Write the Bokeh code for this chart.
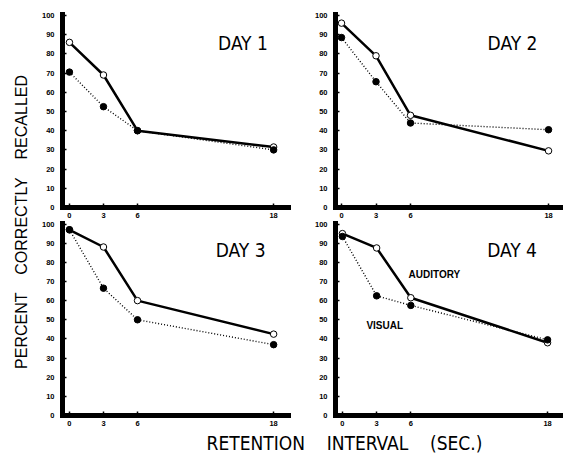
import math
from bokeh.plotting import figure
from bokeh.layouts import row, column
from bokeh.models import FixedTicker, Range1d, Label
from bokeh.embed import file_html
from bokeh.resources import INLINE

# ---- data ----
intervals = [0, 3, 6, 18]
interval_labels = ["0", "3", "6", "18"]
day_names = ["DAY 1", "DAY 2", "DAY 3", "DAY 4"]
auditory_day1 = [86, 69, 40, 31.5]
visual_day1 = [70.5, 52.5, 40, 30]
auditory_day2 = [96, 79, 48, 29.5]
visual_day2 = [88.5, 65.5, 44, 40.5]
auditory_day3 = [97, 88, 60, 42.5]
visual_day3 = [97, 66.5, 50, 37]
auditory_day4 = [95, 87.5, 61.5, 38]
visual_day4 = [93.5, 62.5, 57.5, 39.5]
y_ticks = [0, 10, 20, 30, 40, 50, 60, 70, 80, 90, 100]

NARROW = "Liberation Sans Narrow, DejaVu Sans Condensed, Liberation Sans, sans-serif"
TICKF = "Liberation Sans, Arial, sans-serif"


def panel(aud, vis, name, xr, yend, w, h, bl, br, bt, bb, day_xy, extra=None):
    p = figure(width=w, height=h, x_range=Range1d(*xr), y_range=Range1d(0, yend),
               min_border_left=bl, min_border_right=br, min_border_top=bt,
               min_border_bottom=bb, output_backend="svg", toolbar_location=None)
    p.outline_line_color = None
    p.grid.visible = False
    p.background_fill_color = "white"
    p.border_fill_color = "white"
    p.xaxis.ticker = FixedTicker(ticks=intervals)
    p.xaxis.major_label_overrides = {t: l for t, l in zip(intervals, interval_labels)}
    p.yaxis.ticker = FixedTicker(ticks=y_ticks)
    for ax in (p.xaxis[0], p.yaxis[0]):
        ax.axis_line_width = 5
        ax.axis_line_color = "black"
        ax.axis_line_cap = "square"
        ax.major_tick_in = 4
        ax.major_tick_out = 0
        ax.major_tick_line_width = 1.5
        ax.major_tick_line_color = "black"
        ax.minor_tick_line_color = None
        ax.major_label_text_font = TICKF
        ax.major_label_text_font_size = "7.5px"
        ax.major_label_text_font_style = "bold"
        ax.major_label_text_color = "black"
    p.yaxis.major_label_standoff = 8
    p.xaxis.major_label_standoff = 5

    p.line(intervals, aud, line_color="black", line_width=2.5)
    p.line(intervals, vis, line_color="black", line_width=1.4, line_dash="1 2")
    p.scatter(intervals, aud, marker="circle", size=6.5, fill_color="white",
              line_color="black", line_width=1)
    p.scatter(intervals, vis, marker="circle", size=6.5, fill_color="black",
              line_color="black")
    p.add_layout(Label(x=day_xy[0], y=day_xy[1], text=name, text_font=NARROW,
                       text_font_size="19px", text_baseline="middle",
                       text_align="left", text_color="black"))
    if extra:
        for (tx, ty, t) in extra:
            p.add_layout(Label(x=tx, y=ty, text=t, text_font=TICKF,
                               text_font_size="10px", text_font_style="bold",
                               text_baseline="middle", text_align="left",
                               text_color="black"))
    return p


p1 = panel(auditory_day1, visual_day1, day_names[0], (-0.612, 19.31), 100.5,
           257, 221, 22, 7, 14, 14, (13.1, 85.4))
p2 = panel(auditory_day2, visual_day2, day_names[1], (-0.522, 19.3), 100.5,
           268, 221, 40, 0, 14, 14, (12.7, 85.4))
p3 = panel(auditory_day3, visual_day3, day_names[2], (-0.612, 19.31), 100.8,
           257, 209, 22, 7, 1, 15, (12.9, 86.2))
p4 = panel(auditory_day4, visual_day4, day_names[3], (-0.61, 19.4), 100.8,
           268, 209, 40, 0, 1, 15, (12.7, 86.2),
           extra=[(5.8, 73.6, "AUDITORY"), (2.1, 47, "VISUAL")])


def blank(w, h):
    f = figure(width=w, height=h, x_range=Range1d(0, 1), y_range=Range1d(0, 1),
               x_axis_location=None, y_axis_location=None, min_border=0,
               output_backend="svg", toolbar_location=None)
    f.outline_line_color = None
    f.grid.visible = False
    return f


ylab = blank(38, 430)
ylab.add_layout(Label(x=0.553, y=0.485, text="PERCENT\u00a0\u00a0\u00a0\u00a0CORRECTLY\u00a0\u00a0\u00a0\u00a0RECALLED",
                      angle=math.pi / 2, text_align="center", text_baseline="middle",
                      text_font=TICKF, text_font_size="16px", text_color="black"))

xlab = blank(563, 32)
xlab.add_layout(Label(x=0.611, y=0.594, text="RETENTION\u00a0\u00a0\u00a0\u00a0INTERVAL\u00a0\u00a0\u00a0\u00a0(SEC.)",
                      text_align="center", text_baseline="middle",
                      text_font=NARROW, text_font_size="19px", text_color="black"))

layout = column(row(ylab, column(row(p1, p2), row(p3, p4))), xlab)

open("out.html", "w").write(file_html(layout, INLINE))
